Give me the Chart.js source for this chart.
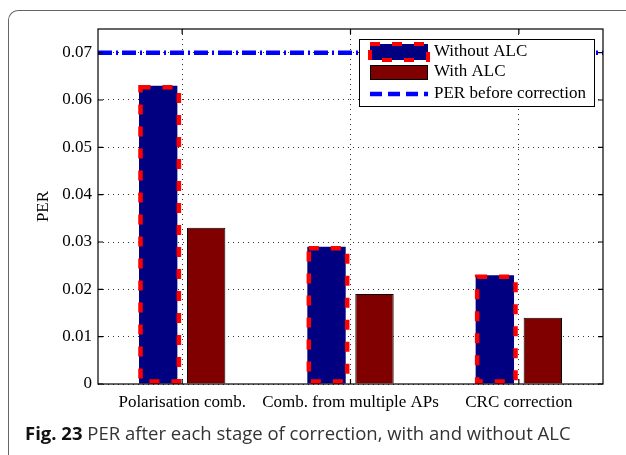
<!DOCTYPE html>
<html>
<head>
<meta charset="utf-8">
<script src="https://cdn.jsdelivr.net/npm/chart.js@4/dist/chart.umd.min.js"></script>
<style>
  html, body { margin: 0; padding: 0; background: #fff; }
  #wrap { position: relative; width: 626px; height: 455px; overflow: hidden; }
  #frame {
    position: absolute; left: 8px; top: 10px; width: 700px; height: 500px;
    border-left: 1.5px solid #666; border-top: 1.5px solid #666;
    border-top-left-radius: 10px;
  }
  #perChart { position: absolute; left: 0; top: 0; }
  #caption {
    position: absolute; left: 25px; top: 420px; white-space: nowrap;
    font-family: "Open Sans", sans-serif; font-size: 18.5px; color: #333;
  }
  #caption b { color: #111; }
</style>
</head>
<body>
<div id="wrap">
  <div id="frame"></div>
  <canvas id="perChart" width="626" height="455"></canvas>
  <div id="caption"><b>Fig. 23</b> PER after each stage of correction, with and without ALC</div>
</div>
<script>
// chart values
const categories = ['Polarisation comb.', 'Comb. from multiple APs', 'CRC correction'];
const withoutAlc = [0.063, 0.029, 0.023];
const withAlc = [0.033, 0.019, 0.014];
const perBefore = 0.07;
const seriesLabels = ['Without ALC', 'With ALC', 'PER before correction'];

const COLORS = {
    navy: '#000080',
    maroon: '#800000',
    red: '#ff0000',
    blue: '#0000ff',
};

const serif = 'Liberation Serif';

// draws the matlab style bits: dashed outline, reference line, box, ticks and legend
const matlabPlugin = {
    id: 'matlabPlugin',
    afterDatasetsDraw(chart) {
        const c = chart.ctx;
        const area = chart.chartArea;
        const yScale = chart.scales.y;
        const xScale = chart.scales.x;

        // red dashed outline round the "without ALC" bars
        c.save();
        c.strokeStyle = COLORS.red;
        c.lineWidth = 4.5;
        c.setLineDash([10, 12]);
        chart.getDatasetMeta(0).data.forEach(bar => {
            const p = bar.getProps(['x', 'y', 'base', 'width'], true);
            c.strokeRect(p.x - p.width / 2 + 1.5, p.y + 1.5, p.width, p.base - p.y - 3.5);
        });
        c.restore();

        // PER before correction line
        const yLine = yScale.getPixelForValue(perBefore);
        c.save();
        c.strokeStyle = COLORS.blue;
        c.lineWidth = 4.5;
        c.setLineDash([14, 4, 2, 4]);
        c.beginPath();
        c.moveTo(area.left, yLine);
        c.lineTo(area.right, yLine);
        c.stroke();
        c.restore();

        // axes box and inward ticks
        c.save();
        c.strokeStyle = '#000';
        c.lineWidth = 1.2;
        c.strokeRect(area.left, area.top, area.right - area.left, area.bottom - area.top);
        c.beginPath();
        yScale.ticks.forEach(t => {
            const py = yScale.getPixelForValue(t.value);
            c.moveTo(area.left, py);
            c.lineTo(area.left + 5, py);
            c.moveTo(area.right, py);
            c.lineTo(area.right - 5, py);
        });
        categories.forEach((cat, i) => {
            const px = xScale.getPixelForValue(i);
            c.moveTo(px, area.bottom);
            c.lineTo(px, area.bottom - 5);
            c.moveTo(px, area.top);
            c.lineTo(px, area.top + 5);
        });
        c.stroke();
        c.restore();

        // legend box
        const x0 = area.right - 244;
        const y0 = area.top + 10;
        c.save();
        c.fillStyle = '#fff';
        c.fillRect(x0, y0, 235, 67);
        c.strokeStyle = '#000';
        c.lineWidth = 1;
        c.strokeRect(x0 + 0.5, y0 + 0.5, 235, 67);

        // swatch 1
        c.fillStyle = COLORS.navy;
        c.fillRect(x0 + 11, y0 + 5, 58, 16);
        c.strokeStyle = COLORS.red;
        c.lineWidth = 4;
        c.setLineDash([10, 12]);
        c.strokeRect(x0 + 11, y0 + 5, 58, 16);

        // swatch 2
        c.setLineDash([]);
        c.fillStyle = COLORS.maroon;
        c.fillRect(x0 + 11, y0 + 26, 58, 15);
        c.strokeStyle = '#000';
        c.lineWidth = 1;
        c.strokeRect(x0 + 11.5, y0 + 26.5, 57, 14);

        // line sample
        c.strokeStyle = COLORS.blue;
        c.lineWidth = 4.5;
        c.setLineDash([12, 6]);
        c.beginPath();
        c.moveTo(x0 + 11, y0 + 55);
        c.lineTo(x0 + 69, y0 + 55);
        c.stroke();

        c.fillStyle = '#000';
        c.font = '17px "' + serif + '"';
        c.textBaseline = 'middle';
        c.fillText(seriesLabels[0], x0 + 75, y0 + 13);
        c.fillText(seriesLabels[1], x0 + 75, y0 + 33);
        c.fillText(seriesLabels[2], x0 + 75, y0 + 54.5);
        c.restore();
    }
};

const ctx = document.getElementById('perChart');

const perConfig = {
    type: 'bar',
    data: {
        labels: categories,
        datasets: [
            {
                label: seriesLabels[0],
                data: withoutAlc,
                backgroundColor: COLORS.navy,
                borderWidth: 0
            },
            {
                label: seriesLabels[1],
                data: withAlc,
                backgroundColor: COLORS.maroon,
                borderColor: '#000',
                borderWidth: 1
            }
        ]
    },
    options: {
        responsive: false,
        animation: false,
        categoryPercentage: 0.57,
        barPercentage: 0.8,
        layout: {
            padding: { left: 29, top: 29, right: 23, bottom: 41 }
        },
        plugins: {
            legend: { display: false },
            tooltip: { enabled: false }
        },
        scales: {
            x: {
                grid: { offset: false, color: '#333', drawTicks: false },
                border: { display: false, dash: [1, 4] },
                ticks: {
                    color: '#000',
                    padding: 8,
                    autoSkip: false,
                    maxRotation: 0,
                    minRotation: 0,
                    font: { family: serif, size: 17 }
                },
                afterFit: s => { s.height = 30; }
            },
            y: {
                min: 0,
                max: 0.075,
                grid: { color: '#333', drawTicks: false },
                border: { display: false, dash: [1, 4] },
                ticks: {
                    stepSize: 0.01,
                    color: '#000',
                    padding: 6,
                    font: { family: serif, size: 17 },
                    callback: v => v === 0 ? '0' : v.toFixed(2)
                },
                title: {
                    display: true,
                    text: 'PER',
                    color: '#000',
                    font: { family: serif, size: 17 }
                },
                afterBuildTicks: s => {
                    s.ticks = s.ticks.filter(t => t.value <= 0.0701);
                },
                afterFit: s => { s.width = 69; }
            }
        }
    },
    plugins: [matlabPlugin]
};

const perChart = new Chart(ctx, perConfig);
</script>
</body>
</html>
